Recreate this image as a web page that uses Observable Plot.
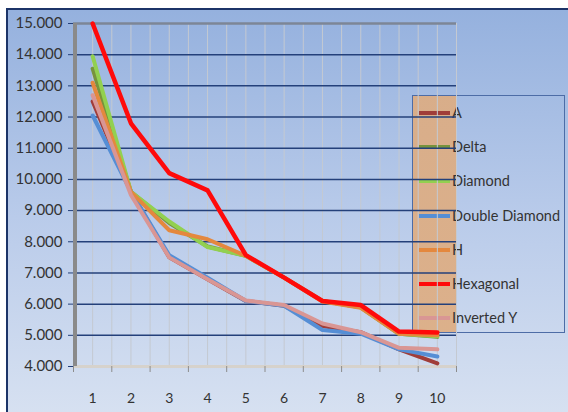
<!DOCTYPE html>
<html><head><meta charset="utf-8">
<script src="https://cdn.jsdelivr.net/npm/d3@7"></script>
<script src="https://cdn.jsdelivr.net/npm/@observablehq/plot@0.6"></script>
<style>
body{margin:0;background:#fff;}
#wrap{position:relative;width:568px;height:412px;overflow:hidden;background:#fff;font-family:Lato,"Open Sans",sans-serif;}
#frame{position:absolute;left:6px;top:8px;width:620px;height:460px;border-top:2px solid #1c3468;border-left:2px solid #1c3468;background:linear-gradient(to bottom,#95b1de 0%,#b9cbea 45%,#dfe7f3 100%);}
#legend{position:absolute;left:412px;top:95px;width:153px;height:238px;border:1.5px solid #4d6ca6;box-sizing:border-box;background:linear-gradient(to right, rgba(222,172,128,0.9) 0px, rgba(222,172,128,0.9) 43px, rgba(0,0,0,0) 43px);}
.item{position:absolute;left:0;height:0;}
.swatch{position:absolute;left:6px;width:31px;height:4px;top:-2px;}
.lab{position:absolute;left:39px;top:-10px;font-size:14.5px;line-height:20px;color:#333;white-space:nowrap;}
#chart{position:absolute;left:0;top:0;}
</style></head>
<body>
<div id="wrap"><div id="frame"></div><div id="legend"></div><div id="chart"></div></div>
<script>
const categories = [1, 2, 3, 4, 5, 6, 7, 8, 9, 10];
const xTickLabels = ["1", "2", "3", "4", "5", "6", "7", "8", "9", "10"];
const yTicks = [4, 5, 6, 7, 8, 9, 10, 11, 12, 13, 14, 15];
const seriesNames = ["A", "Delta", "Diamond", "Double Diamond", "H", "Hexagonal", "Inverted Y"];
const seriesA = [12.5, 9.6, 7.5, 6.8, 6.1, 5.95, 5.3, 5.1, 4.55, 4.1];
const seriesDelta = [13.55, 9.6, 8.6, 7.85, 7.55, 6.85, 6.1, 5.9, 5.05, 4.95];
const seriesDiamond = [13.95, 9.6, 8.65, 7.83, 7.55, 6.85, 6.1, 5.9, 5.05, 4.97];
const seriesDoubleDiamond = [12.05, 9.6, 7.57, 6.85, 6.1, 5.95, 5.17, 5.05, 4.55, 4.32];
const seriesH = [13.1, 9.6, 8.37, 8.08, 7.55, 6.85, 6.08, 5.88, 5.05, 5.0];
const seriesHexagonal = [15.0, 11.8, 10.2, 9.65, 7.57, 6.85, 6.1, 5.97, 5.12, 5.09];
const seriesInvertedY = [12.7, 9.5, 7.5, 6.8, 6.12, 5.97, 5.38, 5.1, 4.6, 4.55];
const seriesValues = [seriesA, seriesDelta, seriesDiamond, seriesDoubleDiamond, seriesH, seriesHexagonal, seriesInvertedY];
const colors = ["#a03d39", "#77933c", "#92d050", "#558ed5", "#e4883e", "#ff0a0a", "#d99694"];
const widths = [4, 4, 4, 4, 4, 4.5, 4];

const rows = seriesNames.flatMap((name, i) => categories.map((c, j) => ({series: name, x: c, y: seriesValues[i][j]})));
const edges = d3.range(0.5, 11, 1);
const halfTicks = d3.range(1, 10.51, 0.5);

const lines = seriesNames.map((name, i) =>
  Plot.line(rows.filter(r => r.series === name), {x: "x", y: "y", stroke: colors[i], strokeWidth: widths[i], strokeLinejoin: "round"}));

const plot = Plot.plot({
  width: 568, height: 412,
  marginLeft: 73, marginRight: 112, marginTop: 23, marginBottom: 46,
  style: {background: "transparent", fontFamily: "Lato, 'Open Sans', sans-serif", fontSize: "14px", color: "#333"},
  x: {domain: [0.5, 10.5], label: null},
  y: {domain: [4, 15], label: null},
  marks: [
    Plot.gridX({ticks: halfTicks, stroke: "#c4c9d1", strokeOpacity: 1, strokeWidth: 1}),
    Plot.gridY({ticks: yTicks.slice(1, -1), stroke: "#24407a", strokeOpacity: 1, strokeWidth: 1.5}),
    Plot.ruleY([15], {stroke: "#7d8696", strokeWidth: 2.5}),
    Plot.ruleY([4], {stroke: "#d6d2cc", strokeWidth: 3}),
    Plot.axisY({ticks: yTicks, tickSize: 5, tickPadding: 6, tickFormat: d3.format(".3f"), stroke: "#24407a", fill: "#333", fontSize: 15, label: null}),
    Plot.axisX({ticks: edges, tickSize: 6, tickFormat: () => "", stroke: "#8c8c8c", label: null}),
    Plot.axisX({ticks: categories, tickSize: 0, tickPadding: 27, tickFormat: d => xTickLabels[categories.indexOf(d)], fill: "#333", fontSize: 14, label: null}),
    Plot.ruleX([0.5], {stroke: "#8a8a8a", strokeWidth: 4, dx: 1.5}),
    ...lines
  ]
});
document.getElementById("chart").appendChild(plot);

const legend = document.getElementById("legend");
seriesNames.forEach((name, i) => {
  const it = document.createElement("div");
  it.className = "item";
  it.style.top = (17 + i * 34.2) + "px";
  it.innerHTML = `<div class="swatch" style="background:${colors[i]}"></div><div class="lab">${name}</div>`;
  legend.appendChild(it);
});
</script>
</body></html>
